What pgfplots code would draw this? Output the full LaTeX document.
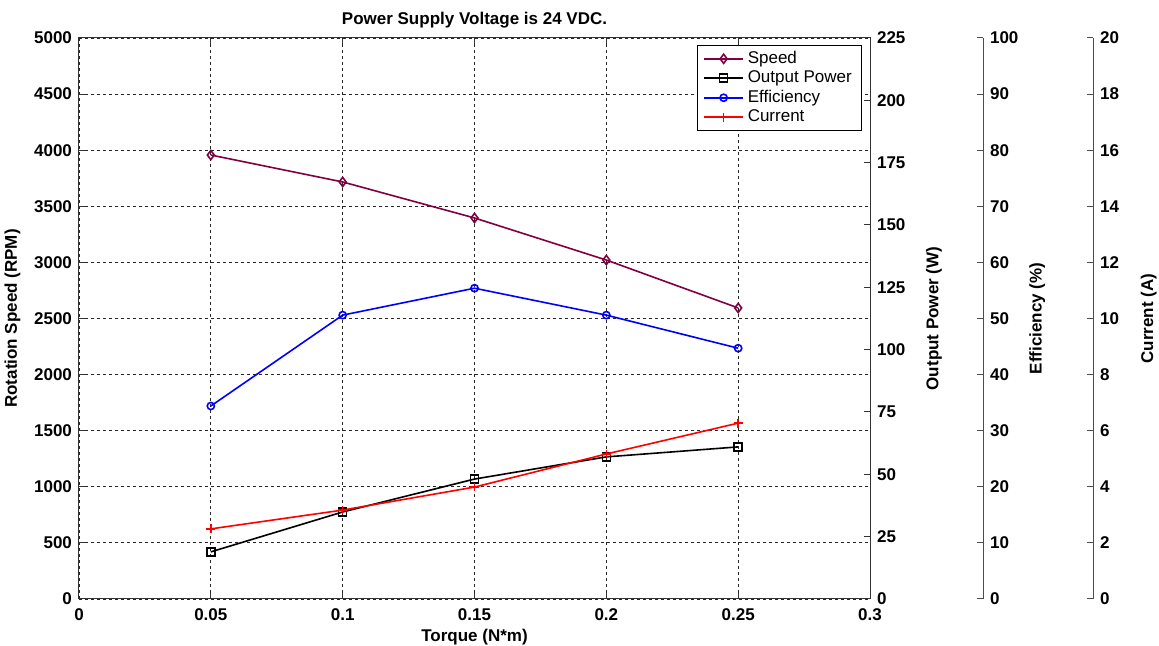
\documentclass[border=0pt]{standalone}
\usepackage{fontspec}
\setmainfont{Liberation Sans}
\usepackage{pgfplots}
\pgfplotsset{compat=1.18}
\definecolor{speedc}{RGB}{128,0,64}
\newcommand{\fs}{\fontsize{8.5}{10}\selectfont}
\pgfplotsset{
  base/.style={
    scale only axis, width=395.5pt, height=280.5pt,
    xmin=0, xmax=0.3,
    /pgf/number format/assume math mode=true,
    /pgf/number format/1000 sep={},
    tick label style={font=\fs\bfseries},
    label style={font=\fs\bfseries},
    tick align=inside, major tick length=3pt,
    scaled ticks=false,
    axis line style={black!80, line width=0.5pt},
    every tick/.style={black!80, line width=0.5pt},
  },
  narrow/.style={
    scale only axis, width=1pt, height=280.5pt,
    xmin=0, xmax=1, hide x axis, axis y line*=right,
    /pgf/number format/assume math mode=true,
    tick label style={font=\fs\bfseries},
    label style={font=\fs\bfseries},
    tick align=inside, major tick length=3pt,
    axis line style={black!70, line width=0.5pt},
    every tick/.style={black!70, line width=0.5pt},
  },
}
\begin{document}
\begin{tikzpicture}
% main axis: speed
\begin{axis}[base,
  ymin=0, ymax=5000, ytick={0,500,...,5000},
  xtick={0,0.05,0.1,0.15,0.2,0.25,0.3},
  xticklabels={0,0.05,0.1,0.15,0.2,0.25,0.3},
  xticklabel style={yshift=-1.2pt},
  ytick pos=left, xtick pos=both,
  grid=major,
  major grid style={black!85, line width=0.4pt, dash pattern=on 1.5pt off 1.5pt},
  xlabel={Torque (N*m)},
  xlabel style={yshift=2.5pt},
  ylabel={Rotation Speed (RPM)},
  title={Power Supply Voltage is 24 VDC.},
  title style={font=\fs\bfseries, yshift=-4.5pt},
]
\addplot[speedc, line width=0.8pt, mark=diamond, mark size=2.3pt, mark options={solid}]
  coordinates {(0.05,3957) (0.1,3717) (0.15,3396) (0.2,3021) (0.25,2594)};
\end{axis}
% output power axis
\begin{axis}[base,
  hide x axis, axis y line*=right,
  ymin=0, ymax=225, ytick={0,25,...,225},
  ylabel={Output Power (W)},
  ylabel style={at={(ticklabel cs:0.5,3.5pt)}},
]
\addplot[black, line width=0.8pt, mark=square, mark size=2pt]
  coordinates {(0.05,18.9) (0.1,34.9) (0.15,48.1) (0.2,57.0) (0.25,61.0)};
\end{axis}
% efficiency data
\begin{axis}[base, hide axis, ymin=0, ymax=100]
\addplot[blue, line width=0.8pt, mark=o, mark size=1.8pt]
  coordinates {(0.05,34.4) (0.1,50.6) (0.15,55.4) (0.2,50.6) (0.25,44.7)};
\end{axis}
% current data + legend
\begin{axis}[base, hide axis, ymin=0, ymax=20,
  legend image code/.code={%
    \draw[mark repeat=2,mark phase=2,#1] plot coordinates {(0cm,0cm) (0.34cm,0cm) (0.68cm,0cm)};},
  legend style={at={(rel axis cs:0.99,0.988)}, anchor=north east,
    font=\fs, draw=black, inner xsep=3pt, inner ysep=1pt, row sep=-1.8pt,
    cells={anchor=west}},
]
\addlegendimage{speedc, line width=0.8pt, mark=diamond, mark size=2.3pt}
\addlegendentry{Speed}
\addlegendimage{black, line width=0.8pt, mark=square, mark size=2pt}
\addlegendentry{Output Power}
\addlegendimage{blue, line width=0.8pt, mark=o, mark size=1.8pt}
\addlegendentry{Efficiency}
\addplot[red, line width=0.8pt, mark=+, mark size=2.2pt]
  coordinates {(0.05,2.50) (0.1,3.17) (0.15,3.99) (0.2,5.17) (0.25,6.27)};
\addlegendentry{Current}
\end{axis}
% efficiency scale
\begin{axis}[narrow, at={(451pt,0)}, anchor=south west,
  ymin=0, ymax=100, ytick={0,10,...,100},
  ylabel={Efficiency (\%)},
  ylabel style={at={(ticklabel cs:0.5,-1.5pt)}},
]
\end{axis}
% current scale
\begin{axis}[narrow, at={(506pt,0)}, anchor=south west,
  ymin=0, ymax=20, ytick={0,2,...,20},
  ylabel={Current (A)},
  ylabel style={at={(ticklabel cs:0.5,4pt)}},
]
\end{axis}
\pgfresetboundingbox
\path[use as bounding box] (-39.5pt,-23.5pt) rectangle (540pt,299.5pt);
\end{tikzpicture}
\end{document}
